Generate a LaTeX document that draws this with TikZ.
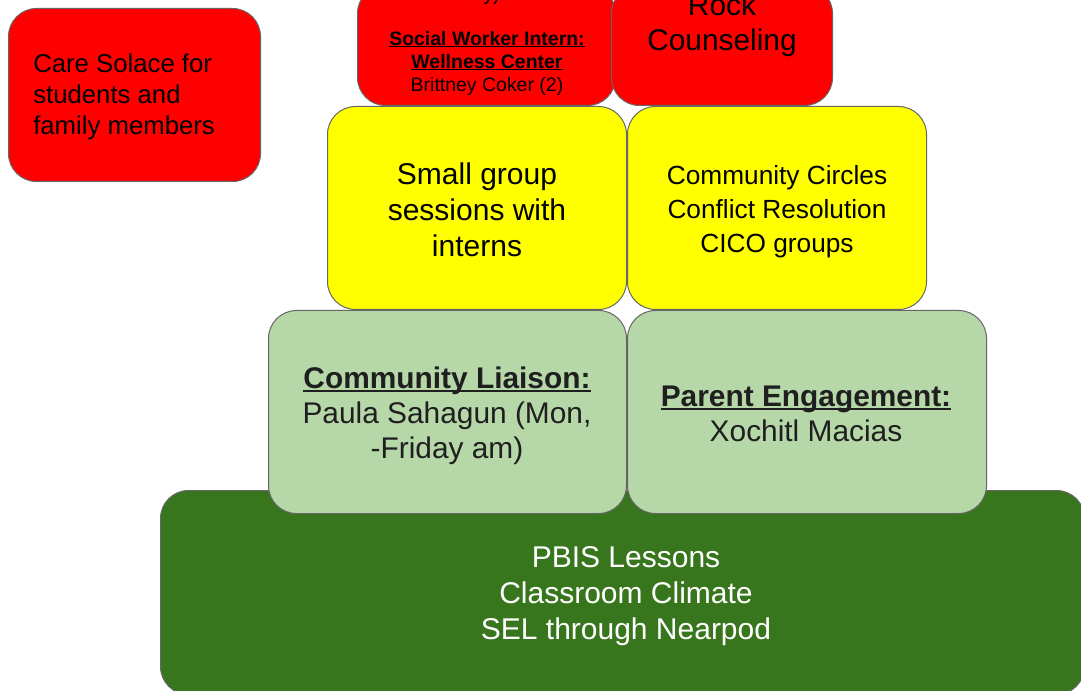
\documentclass[tikz,border=0pt]{standalone}
\usepackage{fontspec}
\setmainfont{Liberation Sans}
\definecolor{tierred}{HTML}{FF0000}
\definecolor{tieryellow}{HTML}{FFFF00}
\definecolor{tierlight}{HTML}{B6D7A8}
\definecolor{tierdark}{HTML}{38761D}
\definecolor{edgegray}{HTML}{666666}
% bold heading with a snug underline just below the baseline
\newcommand{\tierhead}[1]{\leavevmode\setbox0=\hbox{\textbf{#1}}%
  \rlap{\rule[-0.12em]{\wd0}{0.075em}}\box0}
\begin{document}
\begin{tikzpicture}[x=0.75pt,y=-0.75pt,
  tier/.style={draw=edgegray, line width=0.75pt, rounded corners=21pt,
    inner sep=0pt, anchor=north west},
  red tier/.style={tier, fill=tierred},
  yellow tier/.style={tier, fill=tieryellow},
  light tier/.style={tier, fill=tierlight},
  dark tier/.style={tier, fill=tierdark},
  lbl/.style={inner sep=0pt, align=center, text=black},
  sizeA/.style={font=\fontsize{19.3pt}{23.25pt}\selectfont},
  sizeB/.style={font=\fontsize{14.6pt}{17.25pt}\selectfont},
  sizeC/.style={font=\fontsize{22.4pt}{26.25pt}\selectfont},
  sizeD/.style={font=\fontsize{22.5pt}{27pt}\selectfont},
  sizeE/.style={font=\fontsize{19.7pt}{25.5pt}\selectfont}]
\useasboundingbox (0,0) rectangle (1081,691);
\fill[white] (0,0) rectangle (1081,691);

% base tier
\node[dark tier, minimum width=693pt, minimum height=153pt] (pbis) at (160,490) {};
\node[lbl, sizeD, text=white] (pbistext) at (626,596)
  {PBIS Lessons\\Classroom Climate\\SEL through Nearpod};

% second tier
\node[light tier, minimum width=268.5pt, minimum height=152.25pt] (liaison) at (268,310) {};
\node[light tier, minimum width=269.25pt, minimum height=152.25pt] (parent) at (627,310) {};
\node[lbl, sizeC, text=black!88] (liaisontext) at (447,416)
  {\tierhead{Community Liaison:}\\Paula Sahagun (Mon,\\-Friday am)};
\node[lbl, sizeC, text=black!88] (parenttext) at (806,414)
  {\tierhead{Parent Engagement:}\\Xochitl Macias};

% third tier
\node[yellow tier, minimum width=224.25pt, minimum height=152.25pt] (groups) at (327,106) {};
\node[yellow tier, minimum width=224.25pt, minimum height=152.25pt] (circles) at (627,106) {};
\node[lbl, sizeD] (groupstext) at (477,210)
  {Small group\\sessions with\\interns};
\node[lbl, sizeE] (circlestext) at (777,212)
  {Community Circles\\Conflict Resolution\\CICO groups};

% top tier
\node[red tier, minimum width=193.5pt, minimum height=90pt] (intern) at (357,-15) {};
\node[red tier, minimum width=165.75pt, minimum height=90pt] (rock) at (611,-15) {};
\node[inner sep=0pt, anchor=base, font=\fontsize{14.6pt}{17.25pt}\selectfont] (internfrag) at (481,1) {day)};
\node[lbl, sizeB] (interntext) at (487,63)
  {\tierhead{Social Worker Intern:}\\\tierhead{Wellness Center}\\Brittney Coker (2)};
\node[lbl, sizeC] (rocktext) at (722,25)
  {Rock\\Counseling};

% side box
\node[red tier, minimum width=189pt, minimum height=129.75pt] (solace) at (8,8) {};
\node[lbl, sizeA, align=left, anchor=west] (solacetext) at (33,97)
  {Care Solace for\\students and\\family members};
\end{tikzpicture}
\end{document}
